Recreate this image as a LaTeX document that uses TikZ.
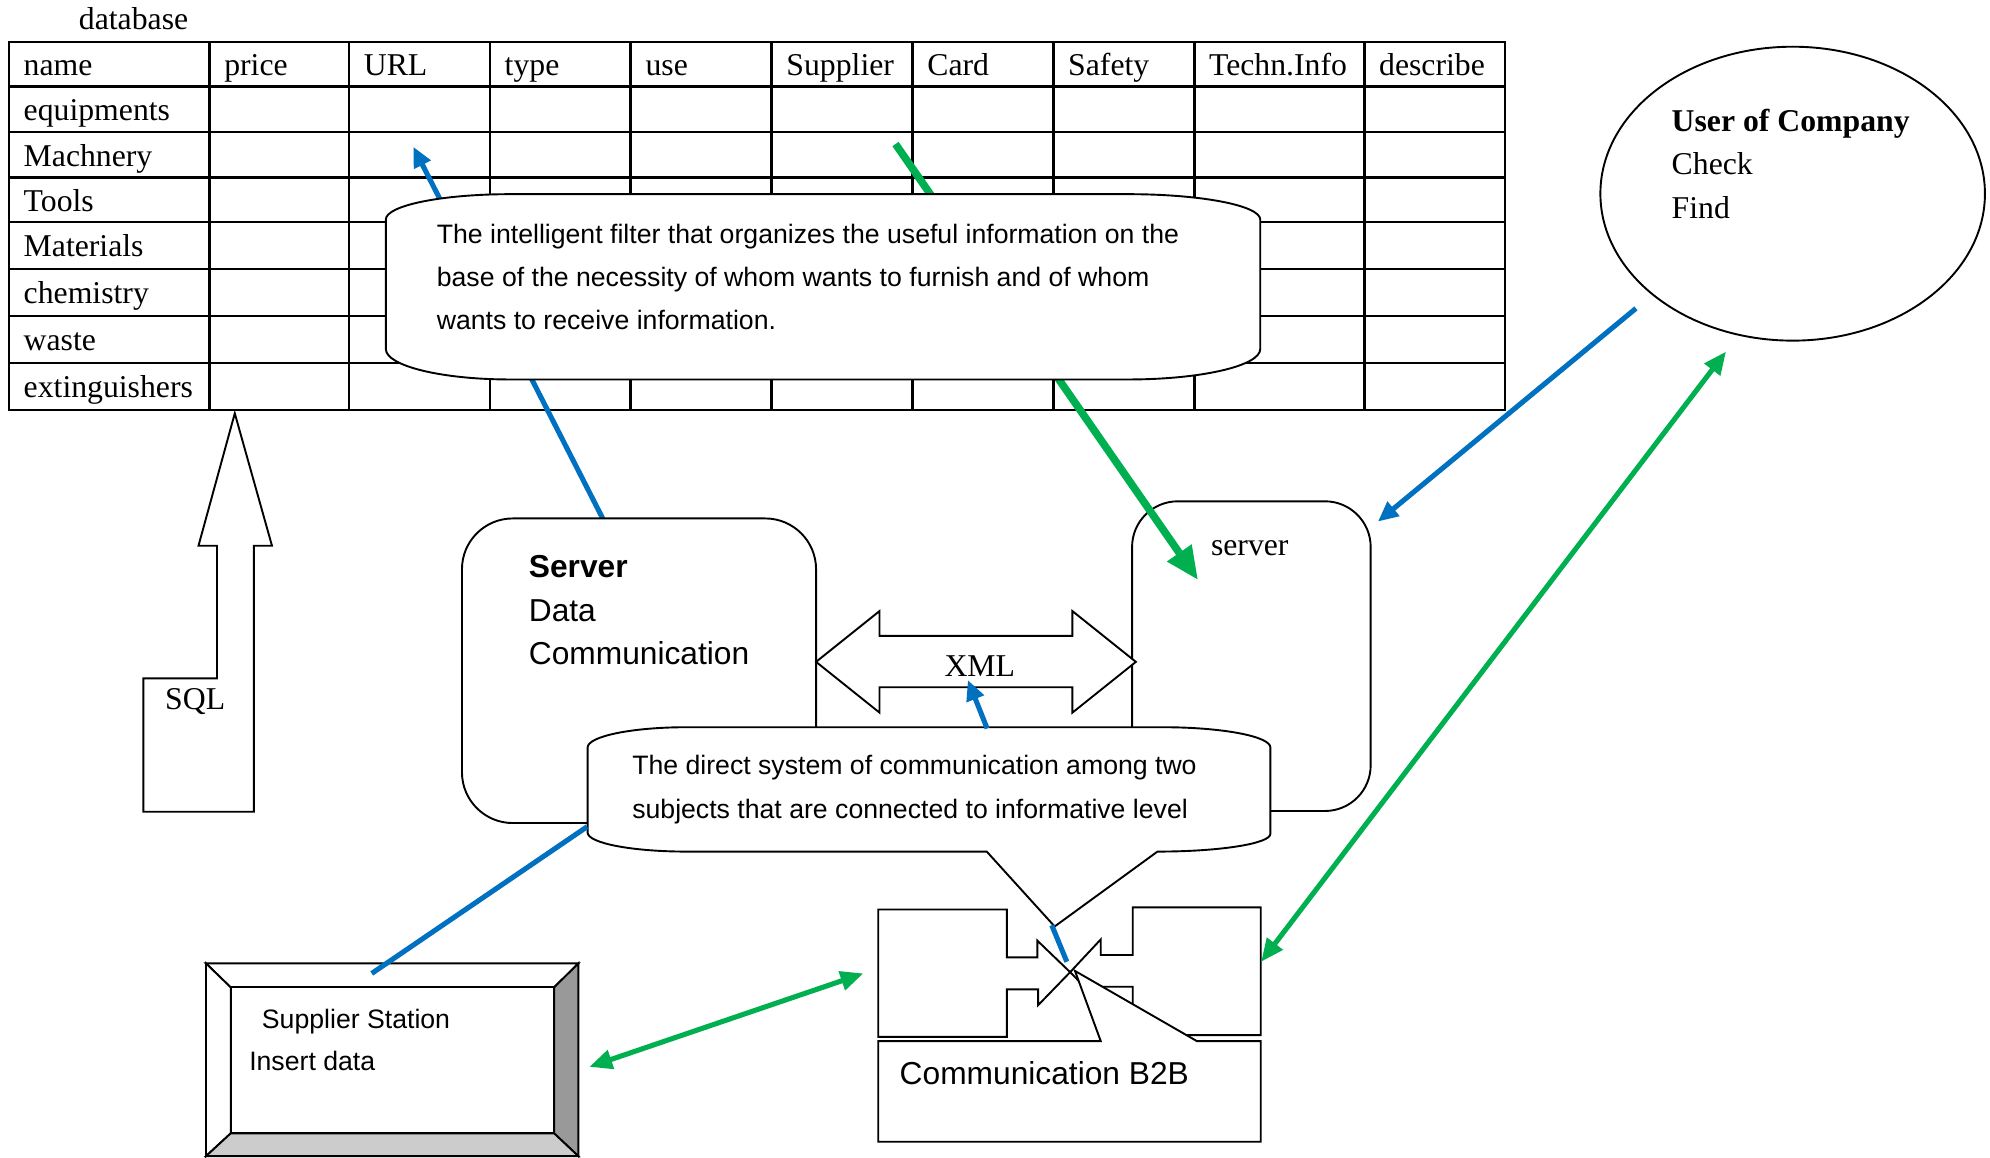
\documentclass[tikz,border=0pt]{standalone}
\usepackage{fontspec}
\setmainfont{Liberation Serif}
\setsansfont{Liberation Sans}
\usetikzlibrary{arrows.meta,shapes.geometric}
\definecolor{myblue}{HTML}{0070C0}
\definecolor{mygreen}{HTML}{00B050}
\begin{document}
\begin{tikzpicture}[x=1pt,y=1pt,
  serif/.style={font=\fontsize{25}{30}\selectfont, inner sep=0pt, anchor=base west},
  serifb/.style={font=\bfseries\fontsize{25}{30}\selectfont, inner sep=0pt, anchor=base west},
  sans/.style={font=\sffamily\fontsize{25}{30}\selectfont, inner sep=0pt, anchor=base west},
  sansb/.style={font=\sffamily\bfseries\fontsize{25}{30}\selectfont, inner sep=0pt, anchor=base west},
  small/.style={font=\sffamily\fontsize{21}{25}\selectfont, inner sep=0pt, anchor=base west},
  gridline/.style={line width=2pt},
  shp/.style={draw=black, line width=1.5pt, line join=miter},
  bluel/.style={draw=myblue, line width=4pt},
  bluearr/.style={draw=myblue, line width=4pt, -{Triangle[length=16pt,width=14pt]}},
  greenbig/.style={draw=mygreen, line width=6pt, -{Triangle[length=26pt,width=22pt]}},
  greendbl/.style={draw=mygreen, line width=4pt, {Triangle[length=18pt,width=15pt]}-{Triangle[length=18pt,width=15pt]}},
]
\useasboundingbox (0,0) rectangle (1568,-912);

% ---------------- table ----------------
\node[serif] (dbl) at (62,-23.3) {database};
\foreach \y in {68,104,140,175,212,249,286} \draw[gridline] (7,-\y) -- (1186,-\y);
\foreach \x in {165,275,386,497,608,719,830,941,1075} \draw[gridline] (\x,-33) -- (\x,-323);
\draw[gridline] (7,-33) rectangle (1186,-323);

\node[serif] (h1) at (18.5,-59.5) {name};
\node[serif] (h2) at (176.5,-59.5) {price};
\node[serif] (h3) at (286.5,-59.5) {URL};
\node[serif] (h4) at (397.5,-59.5) {type};
\node[serif] (h5) at (508.5,-59.5) {use};
\node[serif] (h6) at (619.5,-59.5) {Supplier};
\node[serif] (h7) at (730.5,-59.5) {Card};
\node[serif] (h8) at (841.5,-59.5) {Safety};
\node[serif] (h9) at (952.5,-59.5) {Techn.Info};
\node[serif] (h10) at (1086.5,-59.5) {describe};

\node[serif] (r1) at (18.5,-95) {equipments};
\node[serif] (r2) at (18.5,-131) {Machnery};
\node[serif] (r3) at (18.5,-166.5) {Tools};
\node[serif] (r4) at (18.5,-202.5) {Materials};
\node[serif] (r5) at (18.5,-239.5) {chemistry};
\node[serif] (r6) at (18.5,-276.5) {waste};
\node[serif] (r7) at (18.5,-313.5) {extinguishers};

% ---------------- connectors behind the filter callout ----------------
\coordinate (urlcell) at (325.6,-115.6);
\coordinate (srvtop) at (474.9,-408.5);
\coordinate (suppcell) at (705.6,-113.5);
\coordinate (srvin) at (944,-457);
\draw[bluearr] (srvtop) -- (urlcell);

% ---------------- servers ----------------
\node[shp, fill=white, rounded corners=40pt, minimum width=279pt, minimum height=240pt, inner sep=0pt] (srv1) at (503.5,-528.5) {};
\node[sansb] (s1) at (416.5,-455.4) {Server};
\node[sans] (s2) at (416.5,-489.6) {Data};
\node[sans] (s3) at (416.5,-523.6) {Communication};

\node[shp, rounded corners=36pt, minimum width=188pt, minimum height=244pt, inner sep=0pt] (srv2) at (986,-517) {};
\node[serif] (s4) at (954,-438) {server};

\draw[greenbig] (suppcell) -- (srvin);

% ---------------- filter callout ----------------
\draw[shp, fill=white] (304,-173) arc[start angle=180,end angle=90,x radius=98pt,y radius=20pt]
  -- (889,-153) arc[start angle=90,end angle=0,x radius=104pt,y radius=20pt]
  -- (993,-275) arc[start angle=0,end angle=-90,x radius=104pt,y radius=24pt]
  -- (402,-299) arc[start angle=-90,end angle=-180,x radius=98pt,y radius=24pt]
  -- cycle;
\node[small] (f1) at (344,-191.8) {The intelligent filter that organizes the useful information on the};
\node[small] (f2) at (344,-226) {base of the necessity of whom wants to furnish and of whom};
\node[small] (f3) at (344,-260) {wants to receive information.};

% ---------------- SQL arrow ----------------
\draw[shp, fill=white] (185,-325.7) -- (214.3,-430) -- (200,-430) -- (200,-639.6) -- (113,-639.6)
  -- (113,-534.5) -- (171,-534.5) -- (171,-430) -- (156.4,-430) -- cycle;
\node[serif] (sql) at (130,-559) {SQL};

% ---------------- user of company ----------------
\node[ellipse, shp, minimum width=303pt, minimum height=231.6pt, inner sep=0pt] (user) at (1412.5,-152.6) {};
\node[serifb] (u1) at (1317,-103.4) {User of Company};
\node[serif] (u2) at (1317,-137.6) {Check};
\node[serif] (u3) at (1317,-172) {Find};

\coordinate (userlow) at (1289,-243);
\coordinate (srv2ne) at (1085.7,-411);
\draw[bluearr] (userlow) -- (srv2ne);

% ---------------- XML ----------------
\draw[shp, fill=white] (643,-521.5) -- (693,-481.5) -- (693,-501) -- (845,-501) -- (845,-481.5)
  -- (895,-521.5) -- (845,-561.5) -- (845,-541.5) -- (693,-541.5) -- (693,-561.5) -- cycle;
\node[serif, anchor=base] (xml) at (772,-533) {XML};

% ---------------- direct system callout ----------------
\draw[shp, fill=white] (463,-589) arc[start angle=180,end angle=90,x radius=78pt,y radius=16pt]
  -- (916,-573) arc[start angle=90,end angle=0,x radius=85pt,y radius=16pt]
  -- (1001,-657) arc[start angle=0,end angle=-90,x radius=89pt,y radius=14pt]
  -- (831,-730) -- (777.5,-671)
  -- (541,-671) arc[start angle=-90,end angle=-180,x radius=78pt,y radius=15pt]
  -- cycle;
\node[small] (d1) at (498,-610.4) {The direct system of communication among two};
\node[small] (d2) at (498,-645) {subjects that are connected to informative level};

\coordinate (calltop) at (777.8,-574);
\coordinate (xmlin) at (762.6,-535.8);
\draw[bluearr] (calltop) -- (xmlin);

% ---------------- B2B ----------------
\draw[shp, fill=white] (692,-716.6) -- (793.3,-716.6) -- (793.3,-754.4) -- (817.4,-754.4) -- (817.4,-741.2)
  -- (843.2,-766) -- (818,-792) -- (818,-779.6) -- (793.3,-779.6) -- (793.3,-817) -- (692,-817) -- cycle;
\draw[shp, fill=white] (892.5,-715) -- (993.4,-715) -- (993.4,-815.6) -- (892.5,-815.6) -- (892.5,-777.5)
  -- (867.3,-777.5) -- (867.3,-790.6) -- (843.2,-766) -- (867.3,-740.2) -- (867.3,-752.5) -- (892.5,-752.5) -- cycle;
\draw[shp, fill=white] (692,-820.3) -- (867.3,-820.3) -- (847,-765) -- (943,-820.3) -- (993.4,-820.3)
  -- (993.4,-899.6) -- (692,-899.6) -- cycle;
\node[sans] (b2b) at (708.7,-854.7) {Communication B2B};
\coordinate (ptip) at (828.7,-729);
\coordinate (b2bc) at (840.6,-757.8);
\draw[bluel] (ptip) -- (b2bc);

\coordinate (userbot) at (1360,-277);
\coordinate (b2bright) at (993.7,-757.8);
\draw[greendbl] (b2bright) -- (userbot);

% ---------------- supplier station ----------------
\draw[shp, fill=white] (162.3,-759.1) -- (455.7,-759.1) -- (436.6,-778) -- (181.8,-778) -- cycle;
\draw[shp, fill=white] (162.3,-759.1) -- (181.8,-778) -- (181.8,-893) -- (162.3,-911) -- cycle;
\draw[shp, fill=black!40] (455.7,-759.1) -- (455.7,-911) -- (436.6,-893) -- (436.6,-778) -- cycle;
\draw[shp, fill=black!20] (162.3,-911) -- (455.7,-911) -- (436.6,-893) -- (181.8,-893) -- cycle;
\node[shp, fill=white, minimum width=254.8pt, minimum height=115pt, inner sep=0pt] (supp) at (309.2,-835.5) {};
\node[small] (p1) at (206.2,-810) {Supplier Station};
\node[small] (p2) at (196.2,-843.6) {Insert data};

\coordinate (supptop) at (292.9,-767);
\coordinate (callleft) at (462.6,-651.4);
\draw[bluel] (supptop) -- (callleft);

\coordinate (suppright) at (464.4,-840.6);
\coordinate (b2bleft) at (680.3,-767);
\draw[greendbl] (suppright) -- (b2bleft);
\end{tikzpicture}
\end{document}
